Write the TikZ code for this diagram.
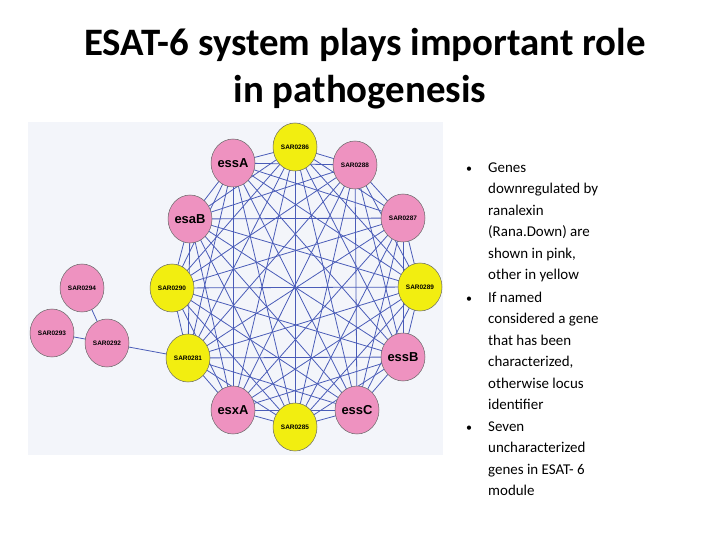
\documentclass[tikz,border=0pt]{standalone}
\usepackage{fontspec}
\setmainfont{Carlito}
\newfontfamily\lab{Liberation Sans}
\usetikzlibrary{shapes.geometric}
\definecolor{pk}{HTML}{EE92C0}
\definecolor{yl}{HTML}{F2EE10}
\definecolor{ed}{HTML}{4A5CB8}
\definecolor{bg}{HTML}{F3F5FA}
\tikzset{
 gn/.style={ellipse,draw=black!60,line width=0.5pt,minimum width=44bp,minimum height=48bp,inner sep=0pt,font=\lab\bfseries\fontsize{6.5}{6.5}\selectfont},
 big/.style={font=\lab\bfseries\fontsize{13}{13}\selectfont},
 edge/.style={ed,line width=0.8pt},
 bt/.style={anchor=base west,font=\fontsize{15}{15}\selectfont,inner sep=0pt},
 tt/.style={font=\bfseries\fontsize{39}{39}\selectfont,inner sep=0pt}
}
\begin{document}
\begin{tikzpicture}[x=1bp,y=-1bp]
\useasboundingbox (0,0) rectangle (720,540);
\fill[white] (0,0) rectangle (720,540);
\fill[bg] (28,122) rectangle (443,455);
\node[tt] (t1) at (365,45) {ESAT-6 system plays important role};
\node[tt] (t2) at (360,92) {in pathogenesis};
\foreach \n/\x/\y in {n1/295/147,n2/355/165,n3/403/218,n4/420/287,n5/403/357,n6/357/410,n7/295/427,n8/233/410,n9/188/358,n10/172/288,n11/190/219,n12/233/163,m1/82/288,m2/52/333,m3/107/343}{
 \coordinate (\n) at (\x,\y);
}
\foreach \i in {1,...,12}{
 \foreach \j in {1,...,12}{
  \ifnum\i<\j \draw[edge] (n\i) -- (n\j); \fi
 }}
\draw[edge] (m3) -- (n9);
\draw[edge] (m3) -- (m2);
\draw[edge] (m3) -- (m1);
\foreach \n/\c/\t/\s in {n1/yl/SAR0286/0,n2/pk/SAR0288/0,n3/pk/SAR0287/0,n4/yl/SAR0289/0,n5/pk/essB/1,n6/pk/essC/1,n7/yl/SAR0285/0,n8/pk/esxA/1,n9/yl/SAR0281/0,n10/yl/SAR0290/0,n11/pk/esaB/1,n12/pk/essA/1,m1/pk/SAR0294/0,m2/pk/SAR0293/0,m3/pk/SAR0292/0}{
 \ifnum\s=1 \node[gn,fill=\c,big] (\n-l) at (\n) {\t};\else \node[gn,fill=\c] (\n-l) at (\n) {\t};\fi
}
\foreach \y/\b/\t in {
 173/1/Genes, 194/0/downregulated by, 216/0/ranalexin, 237/0/(Rana.Down) are, 259/0/{shown in pink,}, 280/0/other in yellow,
 302/1/If named, 323/0/considered a gene, 345/0/that has been, 366/0/{characterized,}, 388/0/otherwise locus, 409/0/identifier,
 431/1/Seven, 452/0/uncharacterized, 474/0/genes in ESAT- 6, 495/0/module}{
 \node[bt] at (488,\y) {\t};
 \ifnum\b=1 \node[bt,font=\fontsize{12}{12}\selectfont] at (466,\y) {•};\fi
}
\end{tikzpicture}
\end{document}
